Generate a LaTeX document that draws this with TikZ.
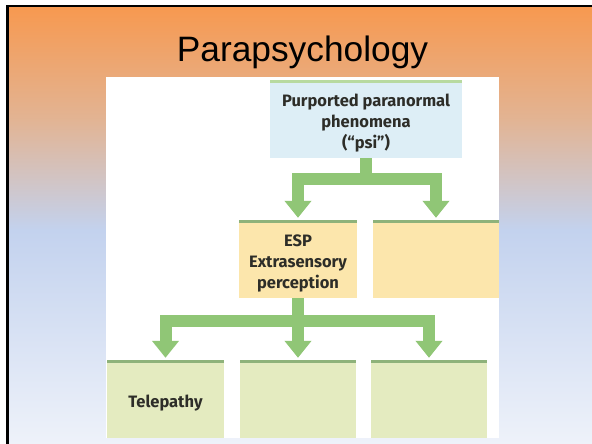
\documentclass[tikz,border=0pt]{standalone}
\usepackage{fontspec}
\setmainfont{Liberation Sans}
\newfontfamily\boxfont{Fira Sans}
\usetikzlibrary{arrows.meta}

\definecolor{bgorange}{RGB}{247,153,80}
\definecolor{bgpeach}{RGB}{226,180,148}
\definecolor{bgblue}{RGB}{195,210,238}
\definecolor{bgpale}{RGB}{238,242,250}
\definecolor{psifill}{RGB}{221,238,246}
\definecolor{psiline}{RGB}{184,218,160}
\definecolor{espfill}{RGB}{252,230,172}
\definecolor{kindfill}{RGB}{228,235,192}
\definecolor{boxline}{RGB}{142,178,122}
\definecolor{flowgreen}{RGB}{144,198,118}
\definecolor{boxtext}{RGB}{45,45,40}

% taller first line, so the text block sits a little low in its box
\newcommand\firstline{\rule{0pt}{21pt}}

\tikzset{
  box/.style={rectangle, inner sep=0pt, align=center, text=boxtext,
    font=\boxfont\bfseries\fontsize{16.5}{21}\selectfont},
  topband/.style={path picture={\fill[#1] (path picture bounding box.north west)
    rectangle ([yshift=-3pt]path picture bounding box.north east);}},
  psibox/.style={box, fill=psifill, topband=psiline},
  espbox/.style={box, fill=espfill, topband=boxline},
  kindbox/.style={box, fill=kindfill, topband=boxline},
  flow/.style={draw=flowgreen, line width=12pt, line join=miter,
    -{Triangle[width=26pt,length=17pt]}, shorten >=2pt},
}

\begin{document}
\begin{tikzpicture}[x=1pt, y=-1pt]
  \useasboundingbox (0,0) rectangle (592,444);
  \clip (0,0) rectangle (592,444);

  % slide background with vertical colour gradient
  \shade[top color=bgorange, bottom color=bgpeach] (9,7) rectangle (592,120.5);
  \shade[top color=bgpeach, bottom color=bgblue] (9,120) rectangle (592,230.5);
  \shade[top color=bgblue, bottom color=bgpale] (9,230) rectangle (592,444);

  % slide frame
  \draw[line width=2.5pt, black] (7.5,460) -- (7.5,6) -- (610,6);

  % title
  \node[anchor=base, font=\fontsize{35.3}{40}\selectfont] (title) at (302.5,62) {Parapsychology};

  % white figure panel
  \fill[white] (106,77) rectangle (499,438);

  % boxes
  \node[psibox, minimum width=192pt, minimum height=78pt] (psi) at (366,119)
    {\firstline Purported paranormal\\phenomena\\(\textquotedblleft psi\textquotedblright)};
  \node[espbox, minimum width=118pt, minimum height=78pt] (esp) at (298,259)
    {\firstline ESP\\Extrasensory\\perception};
  \node[espbox, minimum width=126pt, minimum height=78pt] (other) at (436,259) {};
  \node[kindbox, minimum width=117pt, minimum height=78pt] (tele) at (165.5,399)
    {\firstline Telepathy};
  \node[kindbox, minimum width=116pt, minimum height=78pt] (kindb) at (298,399) {};
  \node[kindbox, minimum width=116pt, minimum height=78pt] (kindc) at (429,399) {};

  % branching arrows
  \draw[flow] (psi.south) -- ++(0,21) -| (esp.north);
  \draw[flow] (psi.south) -- ++(0,21) -| (other.north);
  \draw[flow] (esp.south) -- ++(0,23) -| (tele.north);
  \draw[flow] (esp.south) -- (kindb.north);
  \draw[flow] (esp.south) -- ++(0,23) -| (kindc.north);
\end{tikzpicture}
\end{document}
